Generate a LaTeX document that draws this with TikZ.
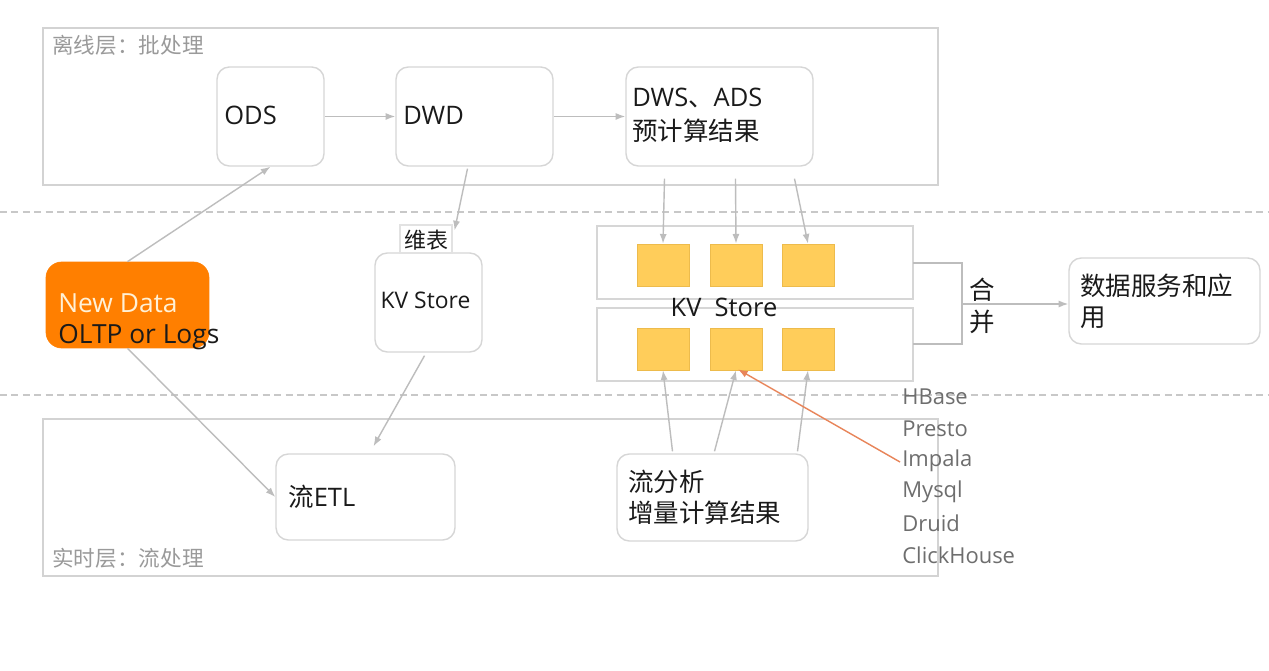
\documentclass[tikz,border=0pt]{standalone}
\usepackage{fontspec}
\setmainfont{Open Sans}
\newfontfamily\cjk{Noto Sans CJK SC}
\usetikzlibrary{arrows.meta,calc}
\definecolor{regiongray}{HTML}{D3D3D3}
\definecolor{boxgray}{HTML}{D6D6D6}
\definecolor{arrowgray}{HTML}{BDBDBD}
\definecolor{dashgray}{HTML}{C8C8C8}
\definecolor{textdark}{HTML}{1A1A1A}
\definecolor{labelgray}{HTML}{9A9A9A}
\definecolor{listgray}{HTML}{6E6E6E}
\definecolor{ndorange}{HTML}{FF7F00}
\definecolor{ndcream}{HTML}{FFF1D6}
\definecolor{kvyellow}{HTML}{FFCD5A}
\definecolor{kvyellowline}{HTML}{EDBB4C}
\definecolor{linkorange}{HTML}{E8855A}
\tikzset{
  region/.style={draw=regiongray, line width=0.8pt, inner sep=0pt},
  box/.style={draw=boxgray, line width=0.8pt, rounded corners=7pt, fill=white, inner sep=0pt},
  kvrow/.style={draw=boxgray, line width=0.8pt, fill=white, inner sep=0pt, minimum width=6.32cm, minimum height=1.46cm},
  ysq/.style={draw=kvyellowline, line width=0.4pt, fill=kvyellow, inner sep=0pt, minimum width=1.04cm, minimum height=0.84cm},
  arr/.style={draw=arrowgray, line width=0.8pt, -{Latex[length=5.5pt,width=4pt]}},
  plain/.style={draw=arrowgray, line width=0.8pt},
  sep/.style={draw=dashgray, line width=1.3pt, dash pattern=on 4pt off 2.5pt},
  txt/.style={anchor=west, inner sep=0pt, text=textdark, font=\fontsize{14.5}{17.6}\selectfont, align=left},
  ctxt/.style={inner sep=0pt, text=textdark, font=\fontsize{14.5}{17.6}\selectfont, align=center},
  lbl/.style={anchor=west, inner sep=0pt, text=labelgray, font=\cjk\fontsize{12.3}{14}\selectfont},
  lst/.style={anchor=west, inner sep=0pt, text=listgray, font=\fontsize{12.5}{14}\selectfont},
}
\begin{document}
\begin{tikzpicture}[x=0.02cm,y=-0.02cm]
\fill[white] (0,0) rectangle (1269,671);
\useasboundingbox (0,0) rectangle (1269,671);

% dashed separators
\coordinate (s1a) at (0,212); \coordinate (s1b) at (1269,212);
\coordinate (s2a) at (0,395); \coordinate (s2b) at (1269,395);
\draw[sep] (s1a) -- (s1b);
\draw[sep] (s2a) -- (s2b);

% layer regions
\node[region, minimum width=17.9cm, minimum height=3.14cm] (top) at (490.5,106.5) {};
\node[region, minimum width=17.9cm, minimum height=3.14cm] (bot) at (490.5,497.5) {};
\node[lbl] (toplbl) at (52,45) {离线层：批处理};
\node[lbl] (botlbl) at (52,558) {实时层：流处理};

% batch layer
\node[box, minimum width=2.14cm, minimum height=1.98cm] (ods) at (270.5,116.5) {};
\node[box, minimum width=3.14cm, minimum height=1.98cm] (dwd) at (474.5,116.5) {};
\node[box, minimum width=3.74cm, minimum height=1.98cm] (dws) at (719.5,116.5) {};
\node[txt] (odst) at (224,115) {ODS};
\node[txt] (dwdt) at (403,115) {DWD};
\node[txt, font=\fontsize{14.5}{19.3}\selectfont] (dwst) at (632,115) {DWS{\cjk 、}ADS\\{\cjk 预计算结果}};

% new data
\node[draw=ndorange, fill=ndorange, rounded corners=9pt, inner sep=0pt, minimum width=3.26cm, minimum height=1.72cm] (nd) at (127.5,305) {};
\node[txt, font=\fontsize{15}{17.6}\selectfont] (ndt) at (58,322) {\textcolor{ndcream}{New Data}\\OLTP or Logs};

% dimension KV store
\node[box, minimum width=2.14cm, minimum height=1.98cm] (kv) at (428.5,302.5) {};
\node[ctxt, font=\fontsize{13}{15}\selectfont] (kvt) at (425.5,300) {KV Store};
\node[draw=boxgray!70, line width=0.6pt, fill=white, inner sep=0pt, minimum width=1.04cm, minimum height=0.56cm] (wb) at (426,239) {};
\node[ctxt, font=\cjk\fontsize{12.5}{14}\selectfont] (wbt) at (426,240) {维表};

% stream layer
\node[box, minimum width=3.58cm, minimum height=1.72cm] (etl) at (365.5,497) {};
\node[box, minimum width=3.82cm, minimum height=1.74cm] (sa) at (712.5,497.5) {};
\node[txt] (etlt) at (288,497) {{\cjk 流}ETL};
\node[txt, font=\cjk\fontsize{14.5}{17.6}\selectfont] (sat) at (628,497) {流分析\\增量计算结果};

% KV store rows
\node[kvrow] (row1) at (755,262.5) {};
\node[kvrow] (row2) at (755,344.5) {};
\node[ysq] (y1) at (663,265) {};
\node[ysq] (y2) at (736,265) {};
\node[ysq] (y3) at (808,265) {};
\node[ysq] (y4) at (663,349) {};
\node[ysq] (y5) at (736,349) {};
\node[ysq] (y6) at (808,349) {};
\node[ctxt] (kvbig) at (724,307) {KV\ \ Store};

% service
\node[box, minimum width=3.82cm, minimum height=1.72cm] (svc) at (1164.5,301) {};
\node[txt, font=\cjk\fontsize{14.5}{17.6}\selectfont] (svct) at (1080,301) {数据服务和应\\用};

% merge bracket
\coordinate (m1) at (913,263);
\coordinate (m2) at (962,263);
\coordinate (m3) at (962,344);
\coordinate (m4) at (913,344);
\coordinate (m5) at (962,304);
\draw[plain] (m1) -- (m2) -- (m3) -- (m4);
\draw[arr] (m5) -- (svc.west |- m5);
\node[ctxt, font=\cjk\fontsize{14.5}{17.6}\selectfont] (he) at (982,290) {合};
\node[ctxt, font=\cjk\fontsize{14.5}{17.6}\selectfont] (bing) at (982,322) {并};

% engines list
\node[lst] (l1) at (902,397) {HBase};
\node[lst] (l2) at (902,429) {Presto};
\node[lst] (l3) at (902,461) {Impala};
\node[lst] (l4) at (902,492) {Mysql};
\node[lst] (l5) at (902,523) {Druid};
\node[lst] (l6) at (902,555) {ClickHouse};

% connectors
\draw[arr] (ods.east) -- (dwd.west);
\draw[arr] (dwd.east) -- (dws.west);
\draw[arr] (nd.north) -- (ods.south);
\draw[arr] (nd.south) -- (etl.west);
\draw[arr] ($(dwd.south)+(-7,2)$) -- ($(wb.north east)+(2,6)$);
\draw[arr] ($(kv.south)+(-4,3)$) -- ($(etl.north)+(8,-7)$);
\draw[arr] ($(dws.south)+(-55,12)$) -- (y1.north);
\draw[arr] ($(dws.south)+(16,12)$) -- (y2.north);
\draw[arr] ($(dws.south)+(75,12)$) -- (y3.north);
\draw[arr] ($(sa.north)+(-40,-2)$) -- (y4.south);
\draw[arr] ($(sa.north)+(2,-2)$) -- (y5.south);
\draw[arr] ($(sa.north)+(85,-2)$) -- (y6.south);
\coordinate (oa) at (900,462);
\draw[draw=linkorange, line width=0.8pt, -{Latex[length=5.5pt,width=4pt]}] (oa) -- ($(y5.south)+(2,-1)$);
\end{tikzpicture}
\end{document}
